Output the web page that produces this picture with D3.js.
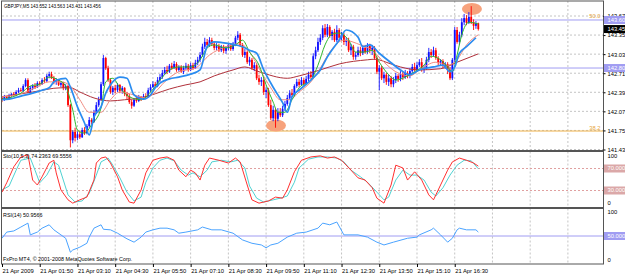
<!DOCTYPE html>
<html>
<head>
<meta charset="utf-8">
<script src="https://cdn.jsdelivr.net/npm/d3@7"></script>
<style>
  html, body { margin: 0; padding: 0; background: #fff; }
  svg { display: block; }
  text { font-family: "Liberation Sans", Arial, sans-serif; font-size: 5.8px; fill: #000; }
  text.caption { font-size: 5.4px; }
  text.title { font-size: 4.6px; }
</style>
</head>
<body>
<div class="container"></div>
<script>
// ---- data (GBPJPY M5, 21 Apr 2009) ----
const titleText = 'GBPJPY,M5  143.552 143.563 143.431 143.456';
const stochText = 'Sto(10,5,3) 74.2363 69.5556';
const rsiText = 'RSI(14) 50.9566';
const copyrightText = 'FxPro MT4, \u00a9 2001-2008 MetaQuotes Software Corp.';

const timeLabels = ['21 Apr 2009', '21 Apr 01:50', '21 Apr 03:10', '21 Apr 04:30', '21 Apr 05:50',
  '21 Apr 07:10', '21 Apr 08:30', '21 Apr 09:50', '21 Apr 11:10', '21 Apr 12:30',
  '21 Apr 13:50', '21 Apr 15:10', '21 Apr 16:30'];
const priceTicks = [143.675, 143.355, 143.035, 142.715, 142.395, 142.075, 141.755, 141.435];

const opens = [142.30,142.27,142.32,142.28,142.33,142.37,142.35,142.40,142.43,142.42,
 142.50,142.60,142.40,142.47,142.50,142.48,142.55,142.53,142.60,142.58,
 142.67,142.70,142.63,142.57,142.60,142.52,142.55,142.47,142.50,142.18,
 141.59,141.73,141.63,141.69,141.64,141.76,141.71,141.83,141.93,141.90,
 142.06,142.18,142.27,142.53,142.97,142.80,142.60,142.40,142.47,142.43,
 142.52,142.42,142.47,142.37,142.33,142.23,142.17,142.27,142.25,142.32,
 142.28,142.33,142.32,142.43,142.48,142.53,142.50,142.60,142.65,142.72,
 142.77,142.74,142.84,142.80,142.87,142.77,142.82,142.74,142.80,142.84,
 142.77,142.85,142.80,142.89,142.94,143.02,143.16,143.24,143.19,143.27,
 143.21,143.14,143.17,143.10,143.16,143.09,143.14,143.19,143.12,143.21,
 143.31,143.36,143.19,143.02,143.07,142.90,142.94,142.80,142.85,142.63,
 142.57,142.60,142.40,142.43,142.18,141.96,142.10,141.95,142.06,142.01,
 142.12,142.20,142.30,142.38,142.35,142.50,142.57,142.52,142.60,142.53,
 142.62,142.69,142.65,143.00,143.10,143.24,143.31,143.47,143.36,143.49,
 143.34,143.41,143.27,143.44,143.31,143.36,143.24,143.27,143.10,143.16,
 142.99,143.02,143.10,143.05,143.14,143.07,143.17,143.10,143.14,142.97,
 142.74,142.80,142.63,142.69,142.57,142.63,142.53,142.60,142.67,142.62,
 142.70,142.65,142.72,142.67,142.75,142.82,142.77,142.85,142.90,142.77,
 142.80,142.94,143.07,143.02,143.10,142.97,142.89,142.92,142.84,142.87,
 142.77,142.63,142.94,143.44,143.24,143.36,143.57,143.64,143.56,143.66,
 143.57,143.51,143.552];

const highs = [142.33,142.35,142.33,142.37,142.38,142.40,142.43,142.47,142.47,142.53,
 142.63,142.63,142.50,142.53,142.55,142.58,142.58,142.63,142.65,142.70,
 142.74,142.74,142.67,142.63,142.62,142.58,142.57,142.53,142.52,142.20,
 141.76,141.80,141.74,141.73,141.80,141.81,141.86,141.98,141.96,142.10,
 142.23,142.32,142.57,143.02,142.99,142.84,142.63,142.50,142.52,142.55,
 142.53,142.50,142.48,142.40,142.37,142.27,142.30,142.32,142.35,142.33,
 142.37,142.38,142.47,142.53,142.58,142.57,142.65,142.70,142.77,142.82,
 142.84,142.87,142.89,142.92,142.90,142.85,142.85,142.84,142.89,142.87,
 142.89,142.89,142.94,142.99,143.07,143.21,143.31,143.29,143.32,143.31,
 143.24,143.22,143.21,143.19,143.19,143.17,143.22,143.22,143.24,143.34,
 143.42,143.39,143.22,143.12,143.10,142.99,142.97,142.90,142.89,142.69,
 142.65,142.63,142.48,142.47,142.27,142.17,142.13,142.13,142.13,142.17,
 142.25,142.35,142.43,142.45,142.53,142.62,142.62,142.65,142.63,142.67,
 142.74,142.75,143.05,143.16,143.31,143.37,143.52,143.54,143.54,143.52,
 143.44,143.46,143.52,143.47,143.41,143.39,143.32,143.31,143.21,143.19,
 143.07,143.16,143.16,143.19,143.19,143.22,143.21,143.19,143.17,143.00,
 142.85,142.84,142.74,142.72,142.69,142.67,142.65,142.72,142.70,142.75,
 142.74,142.77,142.75,142.80,142.87,142.89,142.90,142.95,142.97,142.85,
 142.99,143.14,143.12,143.16,143.14,143.00,142.95,142.95,142.90,142.90,
 142.82,142.97,143.49,143.49,143.41,143.64,143.71,143.69,143.74,143.84,
 143.62,143.59,143.563];

const lows = [142.23,142.25,142.27,142.27,142.32,142.33,142.33,142.38,142.40,142.40,
 142.48,142.38,142.37,142.43,142.45,142.47,142.50,142.52,142.55,142.57,
 142.63,142.62,142.53,142.52,142.50,142.48,142.43,142.43,142.15,141.47,
 141.54,141.57,141.59,141.61,141.63,141.68,141.69,141.80,141.86,141.88,
 142.03,142.15,142.25,142.50,142.77,142.57,142.37,142.35,142.38,142.40,
 142.38,142.37,142.33,142.28,142.20,142.12,142.15,142.22,142.23,142.25,
 142.27,142.28,142.30,142.40,142.47,142.47,142.48,142.57,142.62,142.69,
 142.70,142.72,142.77,142.79,142.74,142.74,142.72,142.70,142.77,142.74,
 142.75,142.77,142.79,142.85,142.90,142.99,143.12,143.16,143.16,143.17,
 143.10,143.10,143.07,143.07,143.05,143.04,143.10,143.09,143.09,143.17,
 143.27,143.16,142.99,142.97,142.87,142.84,142.77,142.75,142.60,142.52,
 142.50,142.35,142.30,142.15,141.93,141.91,141.80,141.91,141.98,141.98,
 142.08,142.17,142.27,142.32,142.32,142.47,142.48,142.50,142.50,142.52,
 142.58,142.62,142.63,142.95,143.07,143.19,143.27,143.32,143.32,143.31,
 143.27,143.24,143.24,143.27,143.26,143.19,143.17,143.07,143.02,142.94,
 142.94,142.99,143.00,143.02,143.04,143.04,143.05,143.02,142.94,142.70,
 142.43,142.60,142.55,142.52,142.50,142.48,142.48,142.55,142.57,142.58,
 142.60,142.62,142.63,142.63,142.72,142.74,142.74,142.82,142.74,142.72,
 142.77,142.90,142.97,142.99,142.94,142.85,142.84,142.80,142.79,142.70,
 142.60,142.60,142.90,143.21,143.19,143.32,143.52,143.52,143.54,143.54,
 143.44,143.46,143.431];

const closes = [142.27,142.32,142.28,142.33,142.37,142.35,142.40,142.43,142.42,142.50,
 142.60,142.40,142.47,142.50,142.48,142.55,142.53,142.60,142.58,142.67,
 142.70,142.63,142.57,142.60,142.52,142.55,142.47,142.50,142.18,141.59,
 141.73,141.63,141.69,141.64,141.76,141.71,141.83,141.93,141.90,142.06,
 142.18,142.27,142.53,142.97,142.80,142.60,142.40,142.47,142.43,142.52,
 142.42,142.47,142.37,142.33,142.23,142.17,142.27,142.25,142.32,142.28,
 142.33,142.32,142.43,142.48,142.53,142.50,142.60,142.65,142.72,142.77,
 142.74,142.84,142.80,142.87,142.77,142.82,142.74,142.80,142.84,142.77,
 142.85,142.80,142.89,142.94,143.02,143.16,143.24,143.19,143.27,143.21,
 143.14,143.17,143.10,143.16,143.09,143.14,143.19,143.12,143.21,143.31,
 143.36,143.19,143.02,143.07,142.90,142.94,142.80,142.85,142.63,142.57,
 142.60,142.40,142.43,142.18,141.96,142.10,141.95,142.06,142.01,142.12,
 142.20,142.30,142.38,142.35,142.50,142.57,142.52,142.60,142.53,142.62,
 142.69,142.65,143.00,143.10,143.24,143.31,143.47,143.36,143.49,143.34,
 143.41,143.27,143.44,143.31,143.36,143.24,143.27,143.10,143.16,142.99,
 143.02,143.10,143.05,143.14,143.07,143.17,143.10,143.14,142.97,142.74,
 142.80,142.63,142.69,142.57,142.63,142.53,142.60,142.67,142.62,142.70,
 142.65,142.72,142.67,142.75,142.82,142.77,142.85,142.90,142.77,142.80,
 142.94,143.07,143.02,143.10,142.97,142.89,142.92,142.84,142.87,142.77,
 142.63,142.94,143.44,143.24,143.36,143.57,143.64,143.56,143.66,143.57,
 143.51,143.552,143.456];

// moving averages, read as [bar, price]
const maBlue = [[0,142.27],[3,142.28],[8,142.33],[13,142.38],[17,142.43],[20,142.47],[22,142.57],[25,142.62],
 [27,142.63],[29,142.48],[32,142.15],[35,141.88],[37,141.68],[39,141.98],[42,142.15],[44,142.38],[46,142.52],
 [50,142.65],[53,142.63],[56,142.35],[60,142.28],[63,142.35],[65,142.47],[67,142.55],[71,142.62],[75,142.65],
 [80,142.70],[84,142.77],[87,143.16],[90,143.24],[95,143.22],[99,143.19],[102,143.16],[105,143.10],[108,143.05],
 [111,142.77],[115,142.48],[119,142.22],[121,142.06],[123,142.32],[126,142.43],[131,142.60],[135,142.77],
 [138,142.99],[143,143.27],[146,143.44],[151,143.32],[153,143.16],[156,143.19],[160,143.05],[165,142.89],
 [169,142.77],[173,142.69],[177,142.77],[183,142.82],[187,142.85],[190,142.74],[192,142.82],[194,143.05],
 [197,143.16],[201,143.31]];
const maGreen = [[0,142.28],[3,142.30],[8,142.38],[12,142.50],[16,142.53],[20,142.65],[24,142.60],[27,142.50],
 [30,142.10],[32,141.76],[35,141.71],[38,141.85],[42,142.13],[44,142.57],[47,142.63],[50,142.47],[54,142.32],
 [59,142.27],[63,142.40],[67,142.60],[71,142.77],[75,142.82],[80,142.82],[84,142.94],[87,143.14],[90,143.19],
 [95,143.14],[99,143.19],[102,143.27],[105,143.07],[109,142.85],[112,142.52],[115,142.23],[117,142.06],
 [120,142.06],[123,142.27],[126,142.47],[131,142.60],[134,142.85],[137,143.19],[140,143.37],[143,143.39],
 [147,143.27],[150,143.07],[154,143.07],[157,143.10],[160,142.90],[164,142.69],[167,142.60],[171,142.65],
 [175,142.74],[179,142.85],[182,143.00],[186,142.94],[189,142.82],[191,142.74],[193,143.02],[195,143.36],
 [198,143.57],[202,143.54]];
const maSalmon = [[0,142.32],[8,142.37],[14,142.47],[20,142.57],[25,142.57],[29,142.50],[33,142.27],[37,142.06],
 [42,142.06],[46,142.27],[50,142.40],[56,142.35],[61,142.30],[65,142.40],[69,142.57],[75,142.74],[82,142.80],
 [88,143.02],[95,143.16],[101,143.21],[105,143.07],[109,142.80],[114,142.47],[118,142.27],[122,142.27],
 [126,142.40],[131,142.57],[135,142.80],[139,143.07],[145,143.27],[152,143.19],[157,143.10],[162,142.90],
 [167,142.74],[173,142.67],[177,142.77],[184,142.90],[189,142.85],[193,142.94],[197,143.19],[202,143.36]];
const maBrown = [[0,142.32],[13,142.40],[25,142.47],[29,142.47],[33,142.40],[39,142.30],[46,142.25],[52,142.27],
 [59,142.30],[65,142.37],[71,142.45],[78,142.52],[84,142.57],[90,142.67],[98,142.77],[103,142.82],[109,142.74],
 [121,142.63],[126,142.67],[135,142.77],[143,142.87],[155,142.94],[158,142.95],[165,142.87],[169,142.82],
 [177,142.77],[186,142.79],[193,142.90],[202,143.04]];

// horizontal objects and the two marked extremes
const hLines = [143.608, 142.802];
const fibLevels = [{ label: '50.0', price: 143.608 }, { label: '38.2', price: 141.745 }];
const marks = [[199.3, 143.792], [116.2, 141.838]];

// stochastic (main, signal) and RSI, read as [bar, value]
const stochMain = [[0,27],[2,44],[5,73],[8,91],[11,95],[13,49],[15,40],[17,55],[20,80],[22,85],[23,62],[25,31],
 [28,13],[30,7],[33,13],[36,18],[39,49],[40,80],[42,89],[44,91],[46,80],[49,55],[51,31],[54,9],[56,7],[59,31],
 [61,62],[64,85],[67,89],[70,91],[73,85],[75,67],[78,55],[80,67],[82,62],[84,49],[86,76],[88,89],[92,85],[96,80],
 [99,89],[101,82],[104,40],[106,13],[109,7],[113,11],[116,18],[119,16],[121,31],[124,64],[127,85],[131,91],
 [135,93],[138,89],[141,91],[144,85],[148,67],[151,53],[154,49],[157,35],[159,16],[162,7],[165,40],[167,76],
 [170,71],[172,49],[175,64],[178,49],[181,22],[183,13],[186,40],[189,67],[191,82],[194,89],[197,85],[200,80],
 [202,74.24]];
const stochSignal = [[0,31],[3,38],[6,67],[8,85],[12,89],[14,67],[16,44],[19,58],[22,82],[24,76],[26,49],[28,22],
 [31,9],[34,11],[37,25],[40,58],[42,82],[45,89],[47,76],[50,53],[53,27],[56,11],[59,18],[61,45],[64,71],[67,85],
 [70,89],[73,84],[76,67],[79,58],[81,62],[84,55],[87,67],[89,82],[93,85],[97,82],[100,85],[103,71],[105,38],
 [108,16],[111,9],[115,13],[118,16],[121,20],[124,45],[126,71],[130,87],[134,91],[138,91],[142,89],[145,82],
 [148,67],[152,55],[155,45],[159,27],[162,13],[164,18],[167,49],[170,67],[173,58],[176,58],[179,49],[182,27],
 [184,20],[187,35],[190,58],[193,76],[196,85],[199,84],[202,69.56]];
const stochLevels = [70, 30];
const rsiValues = [[0,46],[2,57],[5,59],[8,66],[11,73],[12,52],[15,57],[17,64],[20,70],[22,61],[25,52],[27,46],
 [29,21],[30,25],[33,30],[36,37],[37,48],[39,64],[42,70],[43,62],[46,61],[49,55],[51,50],[53,45],[56,39],[59,48],
 [61,57],[64,61],[67,64],[70,64],[73,61],[75,55],[78,57],[83,61],[85,66],[89,61],[93,61],[98,55],[102,43],
 [106,37],[110,34],[112,29],[114,34],[117,37],[121,48],[125,55],[129,57],[134,64],[136,73],[139,70],[142,75],
 [145,52],[151,52],[155,48],[159,39],[162,34],[166,39],[172,46],[176,48],[177,52],[182,61],[183,64],[186,52],
 [189,39],[191,46],[193,61],[194,64],[197,61],[201,61],[202,57]];
const rsiLevel = 50;

// ---- layout ----
const W = 625, H = 274;
const left = 2, right = 603.5;
const mainTop = 1, mainBottom = 150.5;
const stochTop = 151.5, stochBottom = 207.5;
const rsiTop = 208.5, rsiBottom = 264;

const candles = closes.map((c, i) => ({ i, o: opens[i], h: highs[i], l: lows[i], c }));

const barX = d3.scaleLinear().domain([0, 202]).range([2, 478.3]);
const yMain = d3.scaleLinear().domain([141.435, 143.675]).range([149.5, 16]);
const yStoch = d3.scaleLinear().domain([0, 100]).range([207, 152]);
const yRsi = d3.scaleLinear().domain([0, 100]).range([264, 208]);

const svg = d3.select('.container').append('svg')
    .attr('width', W).attr('height', H);

// grid
const gridBars = d3.range(16, 260, 16).filter(b => barX(b) < right - 2);
[[mainTop, mainBottom], [stochTop, stochBottom], [rsiTop, rsiBottom]].forEach(([t, b]) => {
    svg.append('g').selectAll('line').data(gridBars).join('line')
        .attr('x1', d => barX(d)).attr('x2', d => barX(d))
        .attr('y1', t).attr('y2', b)
        .attr('stroke', '#c4c4c4').attr('stroke-dasharray', '2,2');
});
svg.append('g').selectAll('line').data(priceTicks).join('line')
    .attr('x1', left).attr('x2', right)
    .attr('y1', d => yMain(d)).attr('y2', d => yMain(d))
    .attr('stroke', '#c4c4c4').attr('stroke-dasharray', '2,2');

// horizontal objects
svg.append('g').selectAll('line').data(fibLevels.slice(1)).join('line')
    .attr('x1', left).attr('x2', right)
    .attr('y1', d => yMain(d.price)).attr('y2', d => yMain(d.price))
    .attr('stroke', '#f0b34a');
svg.append('g').selectAll('line').data(hLines).join('line')
    .attr('x1', left).attr('x2', right)
    .attr('y1', d => yMain(d)).attr('y2', d => yMain(d))
    .attr('stroke', '#a09cf2');
svg.append('g').selectAll('text').data(fibLevels).join('text')
    .attr('x', right - 3).attr('y', d => yMain(d.price) - 1.5)
    .attr('text-anchor', 'end')
    .style('fill', '#e8a640')
    .text(d => d.label);

// ellipses
svg.append('g').selectAll('ellipse').data(marks).join('ellipse')
    .attr('cx', d => barX(d[0])).attr('cy', d => yMain(d[1]))
    .attr('rx', 10).attr('ry', 6)
    .attr('fill', '#f7a27c');

// candles
const up = '#1010ff', down = '#ff0000';
const cg = svg.append('g');
cg.selectAll('line').data(candles).join('line')
    .attr('x1', d => barX(d.i)).attr('x2', d => barX(d.i))
    .attr('y1', d => yMain(d.h)).attr('y2', d => yMain(d.l))
    .attr('stroke', d => d.c >= d.o ? up : down)
    .attr('stroke-width', 0.9);
cg.selectAll('rect').data(candles).join('rect')
    .attr('x', d => barX(d.i) - 0.9)
    .attr('width', 1.8)
    .attr('y', d => yMain(Math.max(d.o, d.c)))
    .attr('height', d => Math.max(0.8, Math.abs(yMain(d.o) - yMain(d.c))))
    .attr('fill', d => d.c >= d.o ? up : down);

// moving averages
const maLine = d3.line().x(d => barX(d[0])).y(d => yMain(d[1])).curve(d3.curveMonotoneX);
[[maBrown, '#b0303a', 1], [maSalmon, '#f08a80', 1], [maGreen, '#2eb82e', 1], [maBlue, '#2a8cf0', 1.7]]
    .forEach(([data, color, w]) => {
        svg.append('path').datum(data)
            .attr('d', maLine)
            .attr('fill', 'none').attr('stroke', color).attr('stroke-width', w);
    });

// stochastic
svg.append('g').selectAll('line').data(stochLevels).join('line')
    .attr('x1', left).attr('x2', right)
    .attr('y1', d => yStoch(d)).attr('y2', d => yStoch(d))
    .attr('stroke', '#e0a0a0').attr('stroke-dasharray', '2,2');
const stLine = d3.line().x(d => barX(d[0])).y(d => yStoch(d[1]));
svg.append('path').datum(stochSignal).attr('d', stLine)
    .attr('fill', 'none').attr('stroke', '#4fd2d2').attr('stroke-width', 1);
svg.append('path').datum(stochMain).attr('d', stLine)
    .attr('fill', 'none').attr('stroke', '#ff3030').attr('stroke-width', 1);

// rsi
svg.append('line')
    .attr('x1', left).attr('x2', right)
    .attr('y1', yRsi(rsiLevel)).attr('y2', yRsi(rsiLevel))
    .attr('stroke', '#a09cf2');
const rsLine = d3.line().x(d => barX(d[0])).y(d => yRsi(d[1]));
svg.append('path').datum(rsiValues).attr('d', rsLine)
    .attr('fill', 'none').attr('stroke', '#4aa3ff').attr('stroke-width', 1);

// frames
[[mainTop, mainBottom], [stochTop, stochBottom], [rsiTop, rsiBottom]].forEach(([t, b]) => {
    svg.append('rect')
        .attr('x', 1.5).attr('y', t).attr('width', right - 1.5).attr('height', b - t)
        .attr('fill', 'none').attr('stroke', '#555').attr('stroke-width', 1);
});

// price axis
const pAxis = svg.append('g').attr('transform', `translate(${right},0)`)
    .call(d3.axisRight(yMain).tickValues(priceTicks).tickFormat(d3.format('.3f')).tickSize(2).tickSizeOuter(0));
pAxis.select('.domain').remove();
pAxis.selectAll('line').attr('stroke', '#000');
pAxis.selectAll('text').attr('x', 4).attr('font-size', null).attr('font-family', null);

// highlighted price labels
const boxes = [
    ...hLines.map(p => ({ y: yMain(p), text: d3.format('.3f')(p), fill: '#a09cf2', color: '#fff' })),
    { y: yMain(closes[closes.length - 1]), text: d3.format('.3f')(closes[closes.length - 1]), fill: '#000', color: '#fff' },
    ...stochLevels.map(v => ({ y: yStoch(v), text: d3.format('.3f')(v), fill: '#dba8a8', color: '#fff' })),
    { y: yRsi(rsiLevel), text: d3.format('.3f')(rsiLevel), fill: '#a09cf2', color: '#fff' }
];
const bg = svg.append('g').selectAll('g').data(boxes).join('g');
bg.append('rect').attr('x', right + 0.5).attr('y', d => d.y - 4).attr('width', W - right).attr('height', 8)
    .attr('fill', d => d.fill);
bg.append('text').attr('x', right + 4).attr('y', d => d.y).attr('dy', '0.32em')
    .style('fill', d => d.color).text(d => d.text);

// sub-window scale labels
const subLabels = [
    { y: yStoch(100) + 4, t: '100' }, { y: yStoch(0) - 4, t: '0' },
    { y: yRsi(100) + 4, t: '100' }, { y: yRsi(0) - 4, t: '0' }
];
svg.append('g').selectAll('text').data(subLabels).join('text')
    .attr('x', right + 4).attr('y', d => d.y).attr('dy', '0.32em').text(d => d.t);

// time axis
const tAxis = svg.append('g').attr('transform', `translate(0,${rsiBottom})`)
    .call(d3.axisBottom(barX).tickValues(d3.range(0, 193, 16))
        .tickFormat((d, i) => timeLabels[i]).tickSize(3).tickSizeOuter(0));
tAxis.select('.domain').remove();
tAxis.selectAll('line').attr('stroke', '#000');
tAxis.selectAll('text').attr('text-anchor', 'start').attr('y', 5).attr('dy', '0.71em')
    .attr('font-size', null).attr('font-family', null);

// captions
svg.append('text').attr('class', 'title').attr('x', 4).attr('y', 8).text(titleText);
svg.append('text').attr('class', 'caption').attr('x', 3).attr('y', 158).text(stochText);
svg.append('text').attr('class', 'caption').attr('x', 3).attr('y', 217).text(rsiText);
svg.append('text').attr('class', 'caption').attr('x', 3).attr('y', 261).text(copyrightText);
</script>
</body>
</html>
